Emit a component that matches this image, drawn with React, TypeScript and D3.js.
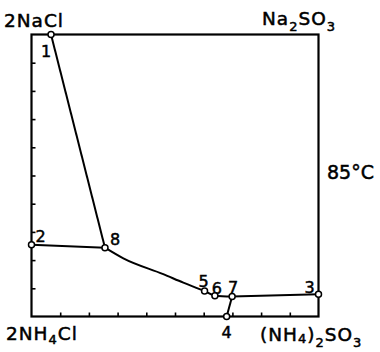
import React, { useRef, useEffect } from "react";
import * as d3 from "d3";

// composition axes: x = % SO3 (right), y = % Na (top)
const curve18 = [[6.8, 100], [25.6, 24.4]];
const curve28 = [[0, 25.4], [25.6, 24.4]];
const curve8to7 = [[25.6, 24.4], [32, 20.6], [45.9, 15.0], [52.9, 12.0], [60.3, 9.0], [63.9, 7.4], [69.9, 7.1]];
const curve73 = [[69.9, 7.1], [100, 7.9]];
const curve74 = [[69.9, 7.1], [68, 0]];

const pointNames = ["1", "2", "3", "4", "5", "6", "7", "8"];
const pointX = [6.8, 0, 100, 68, 60.3, 63.9, 69.9, 25.6];
const pointY = [100, 25.4, 7.9, 0, 9.0, 7.4, 7.1, 24.4];
const tickValues = [10, 20, 30, 40, 50, 60, 70, 80, 90];

// label offsets (px) relative to the point
const labelOffset: Record<string, [number, number]> = {
  "1": [-5, 22],
  "2": [9, -3],
  "3": [-9, -1],
  "4": [0, 21],
  "5": [-1, -4],
  "6": [2, -2],
  "7": [1, -3],
  "8": [10, -3],
};

const W = 380;
const H = 352;
const font = "'DejaVu Sans', sans-serif";

export default function App() {
  const leftRef = useRef<SVGGElement>(null);
  const bottomRef = useRef<SVGGElement>(null);

  const x = d3.scaleLinear().domain([0, 100]).range([31.5, 318.5]);
  const y = d3.scaleLinear().domain([0, 100]).range([316.5, 34.5]);

  const line = d3.line<number[]>().x((d) => x(d[0])).y((d) => y(d[1]));
  const smooth = d3
    .line<number[]>()
    .x((d) => x(d[0]))
    .y((d) => y(d[1]))
    .curve(d3.curveMonotoneX);

  useEffect(() => {
    const left = d3.select(leftRef.current);
    left.selectAll("*").remove();
    left.call(d3.axisRight(y).tickValues(tickValues).tickSize(4).tickFormat(() => ""));
    left.select(".domain").remove();
    left.selectAll("line").attr("stroke", "#000").attr("stroke-width", 1.6);

    const bottom = d3.select(bottomRef.current);
    bottom.selectAll("*").remove();
    bottom.call(d3.axisTop(x).tickValues(tickValues).tickSize(4).tickFormat(() => ""));
    bottom.select(".domain").remove();
    bottom.selectAll("line").attr("stroke", "#000").attr("stroke-width", 1.6);
  }, []);

  const sub = 13;
  return (
    <svg
      width={W}
      height={H}
      style={{ position: "absolute", left: 0, top: 0, background: "#fff" }}
      fontFamily={font}
    >
      <rect
        x={x(0)}
        y={y(100)}
        width={x(100) - x(0)}
        height={y(0) - y(100)}
        fill="none"
        stroke="#000"
        strokeWidth={2.2}
      />
      <g ref={leftRef} transform={`translate(${x(0)},0)`} />
      <g ref={bottomRef} transform={`translate(0,${y(0)})`} />

      <g fill="none" stroke="#000" strokeWidth={2}>
        <path d={line(curve18 as any) || ""} />
        <path d={line(curve28 as any) || ""} />
        <path d={smooth(curve8to7 as any) || ""} />
        <path d={line(curve73 as any) || ""} />
        <path d={line(curve74 as any) || ""} />
      </g>

      <g stroke="#000" strokeWidth={0.5}>
        {pointNames.map((n, i) => (
          <text
            key={n}
            x={x(pointX[i]) + labelOffset[n][0]}
            y={y(pointY[i]) + labelOffset[n][1]}
            textAnchor="middle"
            fontSize={16}
          >
            {n}
          </text>
        ))}
      </g>
      {pointNames.map((n, i) => (
        <circle key={n} cx={x(pointX[i])} cy={y(pointY[i])} r={3} fill="#fff" stroke="#000" strokeWidth={1.5} />
      ))}

      <g fontSize={18.5} letterSpacing={1} stroke="#000" strokeWidth={0.5}>
        <text x={4} y={27}>2NaCl</text>
        <text x={262} y={25}>
          Na<tspan dy={6} fontSize={sub}>2</tspan>
          <tspan dy={-6}>SO</tspan>
          <tspan dy={6} fontSize={sub}>3</tspan>
        </text>
        <text x={6} y={340}>
          2NH<tspan dy={4} fontSize={sub}>4</tspan>
          <tspan dy={-4}>Cl</tspan>
        </text>
        <text x={260} y={341}>
          (NH<tspan dy={2} fontSize={sub}>4</tspan>
          <tspan dy={-2}>)</tspan>
          <tspan dy={6} fontSize={sub}>2</tspan>
          <tspan dy={-6}>SO</tspan>
          <tspan dy={6} fontSize={sub}>3</tspan>
        </text>
        <text x={327} y={179} fontSize={19} letterSpacing={0}>85°C</text>
      </g>
    </svg>
  );
}
